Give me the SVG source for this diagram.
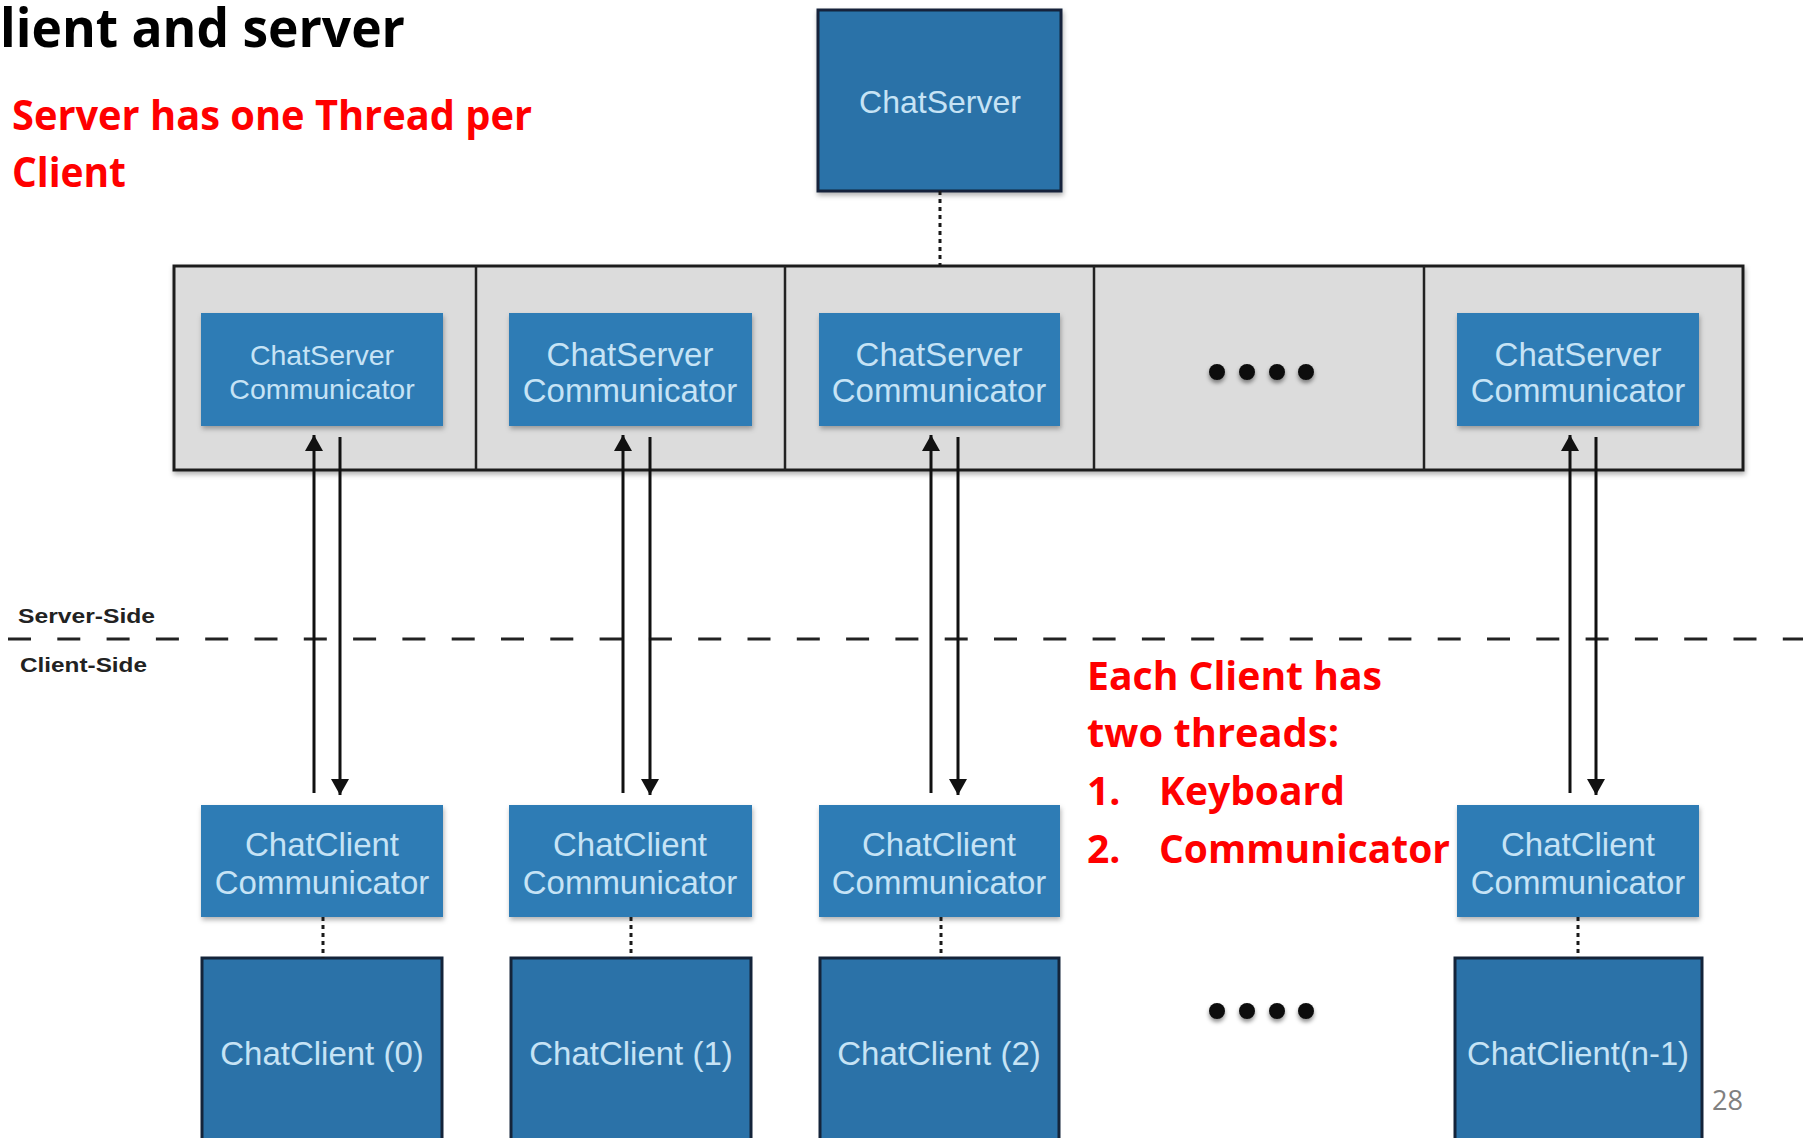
<svg xmlns="http://www.w3.org/2000/svg" width="1803" height="1138" viewBox="0 0 1803 1138">
  <defs>
    <style>
      .title { font-family: "Open Sans", "Noto Sans", sans-serif; font-weight: 700; fill: #000; }
      .note { font-family: "Open Sans", "Noto Sans", sans-serif; font-weight: 700; fill: #ff0000; }
      .lbl { font-family: "Liberation Sans", Arial, sans-serif; fill: #c6e3f5; text-anchor: middle; }
      .side { font-family: "Liberation Sans", Arial, sans-serif; font-weight: 700; fill: #222; font-size: 21px; }
      .page { font-family: "Open Sans", "Noto Sans", sans-serif; fill: #808080; font-size: 28px; }
      .comm { fill: #2f7cb5; }
      .big { fill: #2b72a8; stroke: #14243a; stroke-width: 3; }
      .arrow { stroke: #111; stroke-width: 3; fill: none; }
      .dotted { stroke: #1a1a1a; stroke-width: 3; stroke-dasharray: 4 4; fill: none; }
      .divider { stroke: #222; stroke-width: 2.5; }
      .dot { fill: #0a0a0a; }
    </style>
    <filter id="shadow" x="-10%" y="-10%" width="125%" height="130%">
      <feDropShadow dx="1" dy="3" stdDeviation="2.5" flood-color="#000" flood-opacity="0.3"/>
    </filter>
    <filter id="dotShadow" x="-50%" y="-50%" width="200%" height="220%">
      <feDropShadow dx="0" dy="3" stdDeviation="2" flood-color="#000" flood-opacity="0.45"/>
    </filter>
    <marker id="head" viewBox="0 0 16 18" refX="16" refY="9" markerWidth="19" markerHeight="18" markerUnits="userSpaceOnUse" orient="auto">
      <path d="M0,0 L16,9 L0,18 Z" fill="#111"/>
    </marker>
  </defs>

  <rect width="1803" height="1138" fill="#ffffff"/>

  <!-- heading and notes -->
  <text class="title" x="0" y="47" font-size="54" textLength="405" lengthAdjust="spacingAndGlyphs">lient and server</text>
  <text class="note" x="12" y="130" font-size="41" textLength="520" lengthAdjust="spacingAndGlyphs">Server has one Thread per</text>
  <text class="note" x="12" y="187" font-size="41" textLength="114" lengthAdjust="spacingAndGlyphs">Client</text>

  <!-- server side container -->
  <g id="server-pool">
    <rect x="174" y="266" width="1569" height="204" fill="#dcdcdc" stroke="#1e1e1e" stroke-width="3" filter="url(#shadow)"/>
    <line class="divider" x1="476" y1="266" x2="476" y2="470"/>
    <line class="divider" x1="785" y1="266" x2="785" y2="470"/>
    <line class="divider" x1="1094" y1="266" x2="1094" y2="470"/>
    <line class="divider" x1="1424" y1="266" x2="1424" y2="470"/>
  </g>

  <g id="chat-server">
    <rect class="big" x="818" y="10" width="243" height="181" filter="url(#shadow)"/>
    <text class="lbl" x="940" y="113" font-size="32">ChatServer</text>
  </g>

  <g id="server-comm-0">
    <rect class="comm" x="201" y="313" width="242" height="113" filter="url(#shadow)"/>
    <text class="lbl" x="322" y="365" font-size="28.5">ChatServer</text>
    <text class="lbl" x="322" y="399" font-size="28.5">Communicator</text>
  </g>
  <g id="server-comm-1">
    <rect class="comm" x="509" y="313" width="243" height="113" filter="url(#shadow)"/>
    <text class="lbl" x="630" y="366" font-size="33">ChatServer</text>
    <text class="lbl" x="630" y="402" font-size="33">Communicator</text>
  </g>
  <g id="server-comm-2">
    <rect class="comm" x="819" y="313" width="241" height="113" filter="url(#shadow)"/>
    <text class="lbl" x="939" y="366" font-size="33">ChatServer</text>
    <text class="lbl" x="939" y="402" font-size="33">Communicator</text>
  </g>
  <g id="server-ellipsis" filter="url(#dotShadow)">
    <circle class="dot" cx="1217" cy="372" r="8"/>
    <circle class="dot" cx="1247" cy="372" r="8"/>
    <circle class="dot" cx="1277" cy="372" r="8"/>
    <circle class="dot" cx="1306" cy="372" r="8"/>
  </g>
  <g id="server-comm-n">
    <rect class="comm" x="1457" y="313" width="242" height="113" filter="url(#shadow)"/>
    <text class="lbl" x="1578" y="366" font-size="33">ChatServer</text>
    <text class="lbl" x="1578" y="402" font-size="33">Communicator</text>
  </g>

  <!-- boundary between server and client -->
  <g id="boundary">
    <line x1="8" y1="639" x2="1803" y2="639" stroke="#222" stroke-width="3" stroke-dasharray="23 26.3"/>
    <text class="side" x="18" y="623" textLength="137" lengthAdjust="spacingAndGlyphs">Server-Side</text>
    <text class="side" x="20" y="672" textLength="127" lengthAdjust="spacingAndGlyphs">Client-Side</text>
  </g>

  <!-- client communicators -->
  <g id="client-comm-0">
    <rect class="comm" x="201" y="805" width="242" height="112" filter="url(#shadow)"/>
    <text class="lbl" x="322" y="856" font-size="33">ChatClient</text>
    <text class="lbl" x="322" y="894" font-size="33">Communicator</text>
  </g>
  <g id="client-comm-1">
    <rect class="comm" x="509" y="805" width="243" height="112" filter="url(#shadow)"/>
    <text class="lbl" x="630" y="856" font-size="33">ChatClient</text>
    <text class="lbl" x="630" y="894" font-size="33">Communicator</text>
  </g>
  <g id="client-comm-2">
    <rect class="comm" x="819" y="805" width="241" height="112" filter="url(#shadow)"/>
    <text class="lbl" x="939" y="856" font-size="33">ChatClient</text>
    <text class="lbl" x="939" y="894" font-size="33">Communicator</text>
  </g>
  <g id="client-comm-n">
    <rect class="comm" x="1457" y="805" width="242" height="112" filter="url(#shadow)"/>
    <text class="lbl" x="1578" y="856" font-size="33">ChatClient</text>
    <text class="lbl" x="1578" y="894" font-size="33">Communicator</text>
  </g>

  <!-- clients -->
  <g id="client-0">
    <rect class="big" x="202" y="958" width="240" height="200"/>
    <text class="lbl" x="322" y="1065" font-size="33">ChatClient (0)</text>
  </g>
  <g id="client-1">
    <rect class="big" x="511" y="958" width="240" height="200"/>
    <text class="lbl" x="631" y="1065" font-size="33">ChatClient (1)</text>
  </g>
  <g id="client-2">
    <rect class="big" x="820" y="958" width="239" height="200"/>
    <text class="lbl" x="939" y="1065" font-size="33">ChatClient (2)</text>
  </g>
  <g id="client-ellipsis" filter="url(#dotShadow)">
    <circle class="dot" cx="1217" cy="1011" r="8"/>
    <circle class="dot" cx="1247" cy="1011" r="8"/>
    <circle class="dot" cx="1277" cy="1011" r="8"/>
    <circle class="dot" cx="1306" cy="1011" r="8"/>
  </g>
  <g id="client-n">
    <rect class="big" x="1455" y="958" width="247" height="200"/>
    <text class="lbl" x="1578" y="1065" font-size="33" textLength="222" lengthAdjust="spacingAndGlyphs">ChatClient(n-1)</text>
  </g>

  <!-- connectors -->
  <g id="connectors">
    <line class="dotted" x1="940" y1="191" x2="940" y2="266"/>
    <line class="arrow" x1="314" y1="793" x2="314" y2="435" marker-end="url(#head)"/>
    <line class="arrow" x1="340" y1="437" x2="340" y2="795" marker-end="url(#head)"/>
    <line class="arrow" x1="623" y1="793" x2="623" y2="435" marker-end="url(#head)"/>
    <line class="arrow" x1="650" y1="437" x2="650" y2="795" marker-end="url(#head)"/>
    <line class="arrow" x1="931" y1="793" x2="931" y2="435" marker-end="url(#head)"/>
    <line class="arrow" x1="958" y1="437" x2="958" y2="795" marker-end="url(#head)"/>
    <line class="arrow" x1="1570" y1="793" x2="1570" y2="435" marker-end="url(#head)"/>
    <line class="arrow" x1="1596" y1="437" x2="1596" y2="795" marker-end="url(#head)"/>
    <line class="dotted" x1="323" y1="917" x2="323" y2="958"/>
    <line class="dotted" x1="631" y1="917" x2="631" y2="958"/>
    <line class="dotted" x1="941" y1="917" x2="941" y2="958"/>
    <line class="dotted" x1="1578" y1="917" x2="1578" y2="958"/>
  </g>

  <!-- client thread note -->
  <g id="client-note">
    <text class="note" x="1087" y="690" font-size="39" textLength="295" lengthAdjust="spacingAndGlyphs">Each Client has</text>
    <text class="note" x="1087" y="747" font-size="39" textLength="252" lengthAdjust="spacingAndGlyphs">two threads:</text>
    <text class="note" x="1087" y="805" font-size="39">1.</text>
    <text class="note" x="1159" y="805" font-size="39" textLength="186" lengthAdjust="spacingAndGlyphs">Keyboard</text>
    <text class="note" x="1087" y="863" font-size="39">2.</text>
    <text class="note" x="1159" y="863" font-size="39" textLength="291" lengthAdjust="spacingAndGlyphs">Communicator</text>
  </g>

  <text class="page" x="1712" y="1110" textLength="31" lengthAdjust="spacingAndGlyphs">28</text>
</svg>
